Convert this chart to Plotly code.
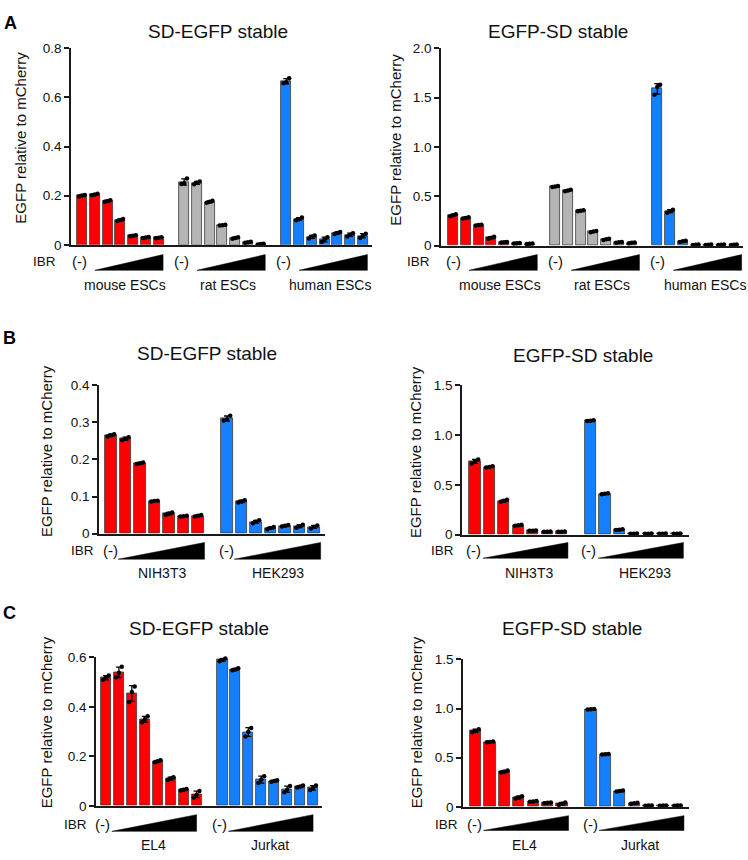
import plotly.graph_objects as go
import numpy as np

W, H = 748, 860
RED, GRAY, BLUE = "#FF0000", "#B4B4B4", "#1580FF"
FONT = "Liberation Sans, Arial, Helvetica, sans-serif"

# ---------------- data (3 replicates per bar) ----------------
# Panel A, SD-EGFP stable
A1_mouse = [[0.197, 0.201, 0.203], [0.202, 0.205, 0.208], [0.175, 0.178, 0.181], [0.097, 0.101, 0.105],
            [0.035, 0.037, 0.039], [0.028, 0.030, 0.032], [0.027, 0.029, 0.031]]
A1_rat = [[0.247, 0.250, 0.270], [0.246, 0.253, 0.258], [0.171, 0.175, 0.179], [0.078, 0.080, 0.082],
          [0.025, 0.028, 0.031], [0.008, 0.010, 0.012], [0.001, 0.003, 0.004]]
A1_human = [[0.658, 0.662, 0.678], [0.100, 0.104, 0.111], [0.026, 0.033, 0.038], [0.012, 0.022, 0.031],
            [0.044, 0.048, 0.052], [0.034, 0.041, 0.047], [0.028, 0.037, 0.045]]
# Panel A, EGFP-SD stable
A2_mouse = [[0.300, 0.310, 0.318], [0.275, 0.282, 0.288], [0.206, 0.210, 0.213], [0.072, 0.082, 0.092],
            [0.032, 0.035, 0.038], [0.023, 0.025, 0.027], [0.018, 0.020, 0.022]]
A2_rat = [[0.595, 0.600, 0.606], [0.552, 0.560, 0.567], [0.350, 0.355, 0.360], [0.138, 0.145, 0.150],
          [0.058, 0.065, 0.071], [0.031, 0.035, 0.039], [0.026, 0.030, 0.033]]
A2_human = [[1.530, 1.610, 1.630], [0.335, 0.350, 0.365], [0.038, 0.045, 0.052], [0.008, 0.010, 0.012],
            [0.008, 0.010, 0.012], [0.008, 0.010, 0.012], [0.008, 0.010, 0.012]]
# Panel B, SD-EGFP stable
B1_nih = [[0.262, 0.265, 0.268], [0.252, 0.256, 0.260], [0.188, 0.190, 0.192], [0.087, 0.088, 0.089],
          [0.051, 0.054, 0.057], [0.046, 0.047, 0.048], [0.046, 0.048, 0.050]]
B1_hek = [[0.305, 0.308, 0.318], [0.084, 0.087, 0.090], [0.028, 0.032, 0.036], [0.012, 0.015, 0.018],
          [0.019, 0.021, 0.023], [0.016, 0.020, 0.024], [0.014, 0.018, 0.022]]
# Panel B, EGFP-SD stable
B2_nih = [[0.715, 0.735, 0.755], [0.675, 0.680, 0.686], [0.330, 0.340, 0.350], [0.090, 0.095, 0.100],
          [0.038, 0.040, 0.042], [0.028, 0.030, 0.032], [0.028, 0.030, 0.032]]
B2_hek = [[1.142, 1.145, 1.148], [0.405, 0.410, 0.415], [0.047, 0.050, 0.053], [0.008, 0.010, 0.012],
          [0.008, 0.010, 0.012], [0.008, 0.010, 0.012], [0.008, 0.010, 0.012]]
# Panel C, SD-EGFP stable
C1_el4 = [[0.510, 0.518, 0.527], [0.520, 0.538, 0.562], [0.420, 0.460, 0.483], [0.338, 0.350, 0.362],
          [0.176, 0.180, 0.184], [0.104, 0.110, 0.116], [0.062, 0.065, 0.068], [0.034, 0.045, 0.060]]
C1_jurkat = [[0.585, 0.590, 0.596], [0.548, 0.551, 0.556], [0.280, 0.300, 0.315], [0.092, 0.105, 0.120],
             [0.097, 0.100, 0.103], [0.055, 0.065, 0.080], [0.074, 0.078, 0.082], [0.064, 0.072, 0.082]]
# Panel C, EGFP-SD stable
C2_el4 = [[0.760, 0.772, 0.790], [0.656, 0.660, 0.665], [0.350, 0.358, 0.370], [0.085, 0.095, 0.108],
          [0.052, 0.055, 0.058], [0.036, 0.040, 0.044], [0.020, 0.030, 0.045]]
C2_jurkat = [[0.990, 0.993, 0.996], [0.532, 0.535, 0.538], [0.155, 0.160, 0.165], [0.030, 0.035, 0.040],
             [0.010, 0.012, 0.014], [0.010, 0.012, 0.014], [0.010, 0.012, 0.014]]

TICKS_08 = [0, 0.2, 0.4, 0.6, 0.8]
TICKTEXT_08 = ["0", "0.2", "0.4", "0.6", "0.8"]
TICKS_20 = [0, 0.5, 1.0, 1.5, 2.0]
TICKTEXT_20 = ["0", "0.5", "1.0", "1.5", "2.0"]
TICKS_04 = [0, 0.1, 0.2, 0.3, 0.4]
TICKTEXT_04 = ["0", "0.1", "0.2", "0.3", "0.4"]
TICKS_15 = [0, 0.5, 1.0, 1.5]
TICKTEXT_15 = ["0", "0.5", "1.0", "1.5"]
TICKS_06 = [0, 0.2, 0.4, 0.6]
TICKTEXT_06 = ["0", "0.2", "0.4", "0.6"]

TITLE_SD = "SD-EGFP stable"
TITLE_EG = "EGFP-SD stable"
YTITLE = "EGFP relative to mCherry"

# layout geometry (pixels): axis left, axis right, plot top, plot bottom
panels = [
    dict(title=TITLE_SD, groups=[("mouse ESCs", RED, A1_mouse), ("rat ESCs", GRAY, A1_rat), ("human ESCs", BLUE, A1_human)],
         ticks=TICKS_08, ticktext=TICKTEXT_08, box=(71, 372, 42, 242), xr=(-0.86, 22.71),
         title_xy=(218, 25), ytitle_xy=(21, 133), ibr_xy=(44, 259), tri_y=(252, 268), lab_y=283,
         minus=-0.23, tri=(1.0, 6.35), lab=0.4),
    dict(title=TITLE_EG, groups=[("mouse ESCs", RED, A2_mouse), ("rat ESCs", GRAY, A2_rat), ("human ESCs", BLUE, A2_human)],
         ticks=TICKS_20, ticktext=TICKTEXT_20, box=(441, 743, 42, 243), xr=(-0.94, 22.71),
         title_xy=(558, 25), ytitle_xy=(396, 135), ibr_xy=(418, 259), tri_y=(252, 268), lab_y=283,
         minus=0.05, tri=(1.25, 6.6), lab=0.7),
    dict(title=TITLE_SD, groups=[("NIH3T3", RED, B1_nih), ("HEK293", BLUE, B1_hek)],
         ticks=TICKS_04, ticktext=TICKTEXT_04, box=(99, 325, 385, 536), xr=(-0.82, 14.75),
         title_xy=(207, 353), ytitle_xy=(46, 452), ibr_xy=(82, 553), tri_y=(545, 562), lab_y=576,
         minus=-0.03, tri=(0.5, 6.45), lab=0.5),
    dict(title=TITLE_EG, groups=[("NIH3T3", RED, B2_nih), ("HEK293", BLUE, B2_hek)],
         ticks=TICKS_15, ticktext=TICKTEXT_15, box=(462, 689, 385, 537), xr=(-0.9, 14.83),
         title_xy=(583, 355), ytitle_xy=(415, 453), ibr_xy=(442, 553), tri_y=(545, 561), lab_y=576,
         minus=-0.1, tri=(0.55, 6.44), lab=0.75),
    dict(title=TITLE_SD, groups=[("EL4", RED, C1_el4), ("Jurkat", BLUE, C1_jurkat)],
         ticks=TICKS_06, ticktext=TICKTEXT_06, box=(96, 322, 662, 813), xr=(-0.77, 16.69),
         title_xy=(199, 633), ytitle_xy=(46, 728), ibr_xy=(75, 832), tri_y=(822, 839), lab_y=853,
         minus=-0.25, tri=(0.45, 7.0), lab=0.15),
    dict(title=TITLE_EG, groups=[("EL4", RED, C2_el4), ("Jurkat", BLUE, C2_jurkat)],
         ticks=TICKS_15, ticktext=TICKTEXT_15, box=(463, 689, 664, 814), xr=(-0.87, 14.8),
         title_xy=(572, 633), ytitle_xy=(416, 728), ibr_xy=(446, 832), tri_y=(823, 838), lab_y=853,
         minus=-0.05, tri=(0.55, 6.45), lab=0.4),
]
letters = [("A", 10, 16), ("B", 9, 337), ("C", 9, 617)]


def px(x):
    return x / W


def py(y):
    return 1 - y / H


fig = go.Figure()
annotations = []
shapes = []
DOT_OFF = [-0.22, 0.0, 0.22]

for i, p in enumerate(panels):
    k = "" if i == 0 else str(i + 1)
    xa, ya = "x" + k, "y" + k
    left, right, top, bottom = p["box"]
    ymax = p["ticks"][-1]
    for g, (gname, color, reps) in enumerate(p["groups"]):
        n = len(reps)
        start = g * (n + 1)
        xs = [start + j for j in range(n)]
        arr = np.array(reps)
        means = arr.mean(axis=1)
        sds = arr.std(axis=1, ddof=1)
        fig.add_trace(go.Bar(
            x=xs, y=means, width=0.78, xaxis=xa, yaxis=ya,
            marker=dict(color=color, line=dict(color="#3a3a3a", width=0.8)),
            error_y=dict(type="data", array=sds, visible=True, color="black", thickness=1.3, width=3),
            showlegend=False, hoverinfo="skip"))
        dx, dy = [], []
        for j, r in enumerate(reps):
            for o, v in zip(DOT_OFF, r):
                dx.append(xs[j] + o)
                dy.append(v)
        fig.add_trace(go.Scatter(x=dx, y=dy, mode="markers", xaxis=xa, yaxis=ya,
                                 marker=dict(color="black", size=4.5), showlegend=False, hoverinfo="skip",
                                 cliponaxis=False))
        # IBR gradient wedge
        t0, t1 = start + p["tri"][0], start + p["tri"][1]
        ytop, ybot = py(p["tri_y"][0]), py(p["tri_y"][1])
        shapes.append(dict(type="path", xref=xa, yref="paper",
                           path=f"M {t0} {ybot} L {t1} {ybot} L {t1} {ytop} Z",
                           fillcolor="black", line=dict(color="black", width=0.5)))
        annotations.append(dict(x=start + p["minus"], y=py(p["ibr_xy"][1]), xref=xa, yref="paper",
                                text="(-)", showarrow=False, font=dict(size=15, color="#111", family=FONT),
                                xanchor="center", yanchor="middle"))
        annotations.append(dict(x=start + (n - 1) / 2 + p["lab"], y=py(p["lab_y"]), xref=xa, yref="paper",
                                text=gname, showarrow=False, font=dict(size=14, color="#111", family=FONT),
                                xanchor="center", yanchor="middle"))

    fig.layout["xaxis" + k] = dict(domain=[px(left), px(right)], range=list(p["xr"]), anchor=ya,
                                   showline=True, linecolor="#1a1a1a", linewidth=1.5, ticks="",
                                   showticklabels=False, showgrid=False, zeroline=False, fixedrange=True)
    fig.layout["yaxis" + k] = dict(domain=[py(bottom), py(top)], range=[0, ymax], anchor=xa,
                                   showline=True, linecolor="#1a1a1a", linewidth=1.5,
                                   ticks="outside", ticklen=5, tickwidth=1.5, tickcolor="#1a1a1a",
                                   tickvals=p["ticks"], ticktext=p["ticktext"],
                                   tickfont=dict(size=13.5, color="#111", family=FONT),
                                   showgrid=False, zeroline=False, fixedrange=True)
    annotations.append(dict(x=px(p["title_xy"][0]), y=py(p["title_xy"][1]), xref="paper", yref="paper",
                            text=p["title"], showarrow=False, font=dict(size=19, color="#111", family=FONT),
                            xanchor="center", yanchor="middle"))
    annotations.append(dict(x=px(p["ytitle_xy"][0]), y=py(p["ytitle_xy"][1]), xref="paper", yref="paper",
                            text=YTITLE, textangle=-90, showarrow=False,
                            font=dict(size=15, color="#111", family=FONT), xanchor="center", yanchor="middle"))
    annotations.append(dict(x=px(p["ibr_xy"][0]), y=py(p["ibr_xy"][1]), xref="paper", yref="paper",
                            text="IBR", showarrow=False, font=dict(size=13.5, color="#111", family=FONT),
                            xanchor="center", yanchor="middle"))

for t, x, y in letters:
    annotations.append(dict(x=px(x), y=py(y), xref="paper", yref="paper", text=f"<b>{t}</b>",
                            showarrow=False, font=dict(size=18, color="black", family=FONT),
                            xanchor="center", yanchor="middle"))

fig.update_layout(width=W, height=H, margin=dict(l=0, r=0, t=0, b=0),
                  paper_bgcolor="white", plot_bgcolor="white", bargap=0,
                  annotations=annotations, shapes=shapes, font=dict(family=FONT))
fig.write_html("out.html")
